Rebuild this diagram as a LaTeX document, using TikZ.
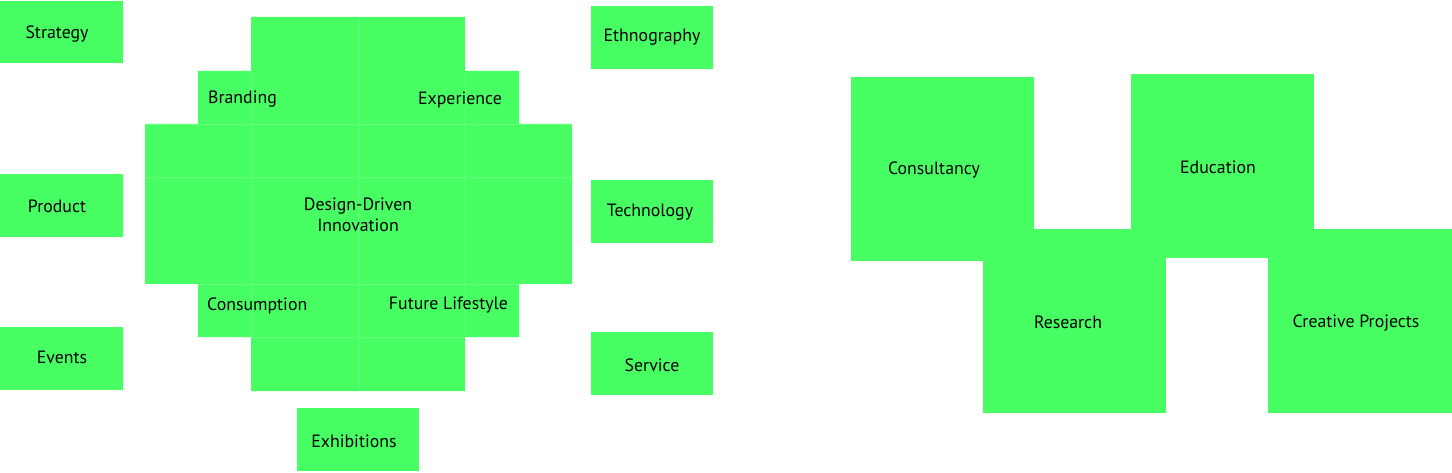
\documentclass[tikz,border=0pt]{standalone}
\usepackage{fontspec}
\setmainfont{PT Sans}
\definecolor{grn}{RGB}{71,255,98}
\definecolor{grnline}{RGB}{104,255,126}
\begin{document}
\begin{tikzpicture}[x=1pt,y=-1pt,
  box/.style={fill=grn,draw=none,inner sep=0pt,anchor=north west},
  lbl/.style={inner sep=0pt,font=\fontsize{17.8}{21}\selectfont,align=center,yshift=-1.5pt},
  faint/.style={draw=grnline,line width=0.8pt}]
\useasboundingbox (0,0) rectangle (1452,473);
% small boxes (left)
\node[box,minimum width=123pt,minimum height=62pt] (strategy) at (0,1) {};
\node[box,minimum width=123pt,minimum height=63pt] (product) at (0,174) {};
\node[box,minimum width=123pt,minimum height=63pt] (events) at (0,327) {};
\node[box,minimum width=122pt,minimum height=63pt] (ethno) at (591,6) {};
\node[box,minimum width=122pt,minimum height=63pt] (tech) at (591,180) {};
\node[box,minimum width=122pt,minimum height=63pt] (service) at (591,332) {};
\node[box,minimum width=122pt,minimum height=63pt] (exhib) at (297,408) {};
\node[lbl] at (57,33) {Strategy};
\node[lbl] at (57,205) {Product};
\node[lbl] at (62,356) {Events};
\node[lbl] at (652,36) {Ethnography};
\node[lbl] at (650,211) {Technology};
\node[lbl] at (652,364) {Service};
\node[lbl] at (354,440) {Exhibitions};
% central cluster
\fill[grn] (251,17) -- (465,17) -- (465,71) -- (519,71) -- (519,124) -- (572,124)
  -- (572,284) -- (519,284) -- (519,337) -- (465,337) -- (465,391) -- (251,391)
  -- (251,337) -- (198,337) -- (198,284) -- (145,284) -- (145,124) -- (198,124)
  -- (198,71) -- (251,71) -- cycle;
\draw[faint] (251,71) -- (251,337);
\draw[faint] (358,17) -- (358,391);
\draw[faint] (465,71) -- (465,337);
\draw[faint] (145,124) -- (572,124);
\draw[faint] (145,177) -- (572,177);
\draw[faint] (198,284) -- (519,284);
\draw[faint] (251,337) -- (465,337);
\node[lbl] (ddi) at (358,213) {Design-Driven\\Innovation};
\node[lbl,anchor=west] (branding) at (208,98) {Branding};
\node[lbl,anchor=east] (experience) at (502,98) {Experience};
\node[lbl,anchor=west] (consumption) at (207,304) {Consumption};
\node[lbl,anchor=east] (future) at (508,304) {Future Lifestyle};
% right group
\node[box,minimum width=183pt,minimum height=184pt] (consult) at (851,77) {};
\node[box,minimum width=183pt,minimum height=184pt] (edu) at (1131,74) {};
\node[box,minimum width=183pt,minimum height=184pt] (research) at (983,229) {};
\node[box,minimum width=184pt,minimum height=184pt] (creative) at (1268,229) {};
\node[lbl] at (934,168) {Consultancy};
\node[lbl] at (1218,166) {Education};
\node[lbl] at (1068,321) {Research};
\node[lbl] at (1356,322) {Creative Projects};
\end{tikzpicture}
\end{document}
